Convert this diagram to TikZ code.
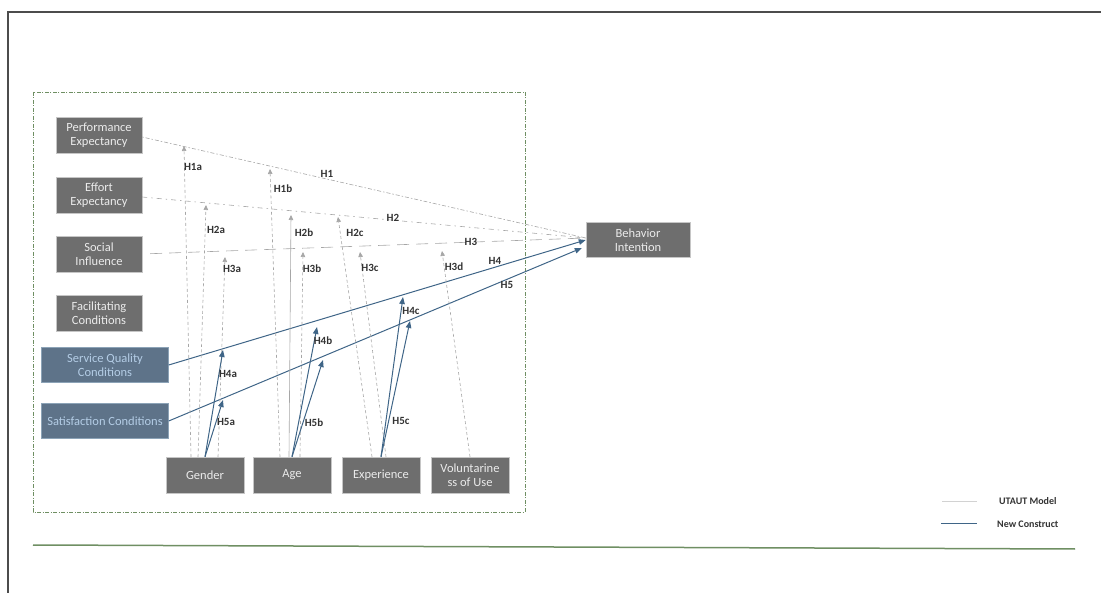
\documentclass[tikz,border=0pt]{standalone}
\usepackage{fontspec}
\setmainfont{Carlito}
\usetikzlibrary{positioning, arrows.meta, calc}

\definecolor{boxgray}{HTML}{6E6E6E}
\definecolor{newblue}{HTML}{3F6587}
\definecolor{newfill}{HTML}{5E7389}
\definecolor{newtext}{HTML}{B4CDE6}
\definecolor{framegreen}{HTML}{6F8F63}

\begin{document}
\begin{tikzpicture}[x=1pt, y=-1pt]
        \tikzset{
            construct/.style={
                    draw=gray!45, fill=boxgray, text=white!92!black, align=center,
                    minimum width=86pt, minimum height=36pt, inner sep=1pt,
                    font=\fontsize{12.5}{14}\selectfont
                },
            new construct/.style={
                    construct, draw=newblue!60, fill=newfill, text=newtext,
                    minimum width=127pt, minimum height=35pt
                },
            utaut/.style={
                    draw=gray!70, line width=0.6pt
                },
            moderator arrow/.style={
                    utaut, dash pattern=on 3pt off 2.5pt,
                    -{Triangle[width=4.5pt, length=5pt]}
                },
            new arrow/.style={
                    draw=newblue, line width=1pt,
                    -{Triangle[width=5.5pt, length=7pt]}
                },
            hyp label/.style={
                    font=\fontsize{11}{13}\selectfont\bfseries, text=black!80
                }
        }

        \useasboundingbox (0,0) rectangle (1101,593);

        % page frame and model boundary
        \draw[gray!60!black, line width=1.2pt] (8,593) -- (8,12) -- (1101,12);
        \draw[framegreen, line width=0.7pt, dash pattern=on 4pt off 1.5pt on 1pt off 1.5pt] (33,92) rectangle (525,512);
        \draw[framegreen, line width=1.5pt] (33,545) -- (1075,549);

        % constructs
        \node[construct] (pe) at (99,135) {Performance\\Expectancy};
        \node[construct] (ee) at (99,195) {Effort\\Expectancy};
        \node[construct] (si) at (99,254) {Social\\Influence};
        \node[construct] (fc) at (99,313) {Facilitating\\Conditions};
        \node[new construct] (sq) at (105,365) {Service Quality\\Conditions};
        \node[new construct] (sc) at (105,421) {Satisfaction Conditions};
        \node[construct, minimum width=104pt, minimum height=35pt] (bi) at (638,240) {Behavior\\Intention};

        % moderators
        \node[construct, minimum width=78pt] (gender) at (205,475) {Gender};
        \node[construct, minimum width=78pt] (age) at (292,475) {Age};
        \node[construct, minimum width=78pt] (exp) at (381,475) {Experience};
        \node[construct, minimum width=78pt] (vol) at (470,475) {Voluntarine\\ss of Use};

        % arrow tips of the moderating effects
        \coordinate (t1a) at (184,146);
        \coordinate (t1b) at (270,169);
        \coordinate (t2a) at (206,205);
        \coordinate (t2b) at (291,215);
        \coordinate (t2c) at (338,217);
        \coordinate (t3a) at (225,257);
        \coordinate (t3b) at (303,252);
        \coordinate (t3c) at (360,252);
        \coordinate (t3d) at (442,251);
        \coordinate (t4a) at (223,350);
        \coordinate (t4b) at (317,327);
        \coordinate (t4c) at (403,297);
        \coordinate (t5a) at (223,400);
        \coordinate (t5b) at (323,360);
        \coordinate (t5c) at (410,321);

        % UTAUT paths
        \draw[utaut, dash pattern=on 1.5pt off 2pt on 4pt off 2pt] ([yshift=-2pt]pe.east) -- ([yshift=2pt]bi.west);
        \draw[utaut, dash pattern=on 5pt off 4pt on 1.5pt off 4pt] ([yshift=-2pt]ee.east) -- ([yshift=2pt]bi.west);
        \draw[utaut, dash pattern=on 12pt off 7pt, shorten <=8pt] (si.east) -- ([yshift=2pt]bi.west);

        % new paths
        \draw[new arrow] (sq.east) -- (bi.west);
        \draw[new arrow] (sc.east) -- ([xshift=-4pt, yshift=-8pt]bi.west);

        % moderating effects of UTAUT
        \draw[moderator arrow] ([xshift=-14pt]gender.north) -- (t1a);
        \draw[moderator arrow] ([xshift=-7pt]gender.north) -- (t2a);
        \draw[moderator arrow] ([xshift=13pt]gender.north) -- (t3a);
        \draw[moderator arrow] ([xshift=-12pt]age.north) -- (t1b);
        \draw[utaut, -{Triangle[width=4.5pt, length=5pt]}] ([xshift=-3pt]age.north) -- (t2b);
        \draw[moderator arrow] ([xshift=8pt]age.north) -- (t3b);
        \draw[moderator arrow] ([xshift=-9pt]exp.north) -- (t2c);
        \draw[moderator arrow] ([xshift=5pt]exp.north) -- (t3c);
        \draw[moderator arrow] (vol.north) -- (t3d);

        % moderating effects on new constructs
        \foreach \m/\a/\b in {gender/t4a/t5a, age/t4b/t5b, exp/t4c/t5c}{
            \draw[new arrow] (\m.north) -- (\a);
            \draw[new arrow] (\m.north) -- (\b);
        }

        % hypothesis labels
        \node[hyp label] (lh1) at (327,174) {H1};
        \node[hyp label] (lh2) at (393,218) {H2};
        \node[hyp label] (lh3) at (471,242) {H3};
        \node[hyp label] (lh4) at (495,261) {H4};
        \node[hyp label] (lh5) at (507,285) {H5};
        \node[hyp label] (lh1a) at (193,167) {H1a};
        \node[hyp label] (lh1b) at (283,189) {H1b};
        \node[hyp label] (lh2a) at (216,230) {H2a};
        \node[hyp label] (lh2b) at (304,233) {H2b};
        \node[hyp label] (lh2c) at (355,233) {H2c};
        \node[hyp label] (lh3a) at (232,269) {H3a};
        \node[hyp label] (lh3b) at (312,269) {H3b};
        \node[hyp label] (lh3c) at (370,268) {H3c};
        \node[hyp label] (lh3d) at (454,267) {H3d};
        \node[hyp label] (lh4a) at (228,374) {H4a};
        \node[hyp label] (lh4b) at (323,341) {H4b};
        \node[hyp label] (lh4c) at (411,311) {H4c};
        \node[hyp label] (lh5a) at (226,422) {H5a};
        \node[hyp label] (lh5b) at (314,423) {H5b};
        \node[hyp label] (lh5c) at (401,421) {H5c};

        % legend
        \draw[gray!35, line width=0.8pt] (942,501) -- (977,501);
        \draw[newblue, line width=1pt] (941,523) -- (977,523);
        \node[hyp label, font=\fontsize{10}{12}\selectfont\bfseries, anchor=west, inner sep=0pt] (lutaut) at (999,501) {UTAUT Model};
        \node[hyp label, font=\fontsize{10}{12}\selectfont\bfseries, anchor=west, inner sep=0pt] (lnew) at (997,524) {New Construct};
    \end{tikzpicture}
\end{document}
